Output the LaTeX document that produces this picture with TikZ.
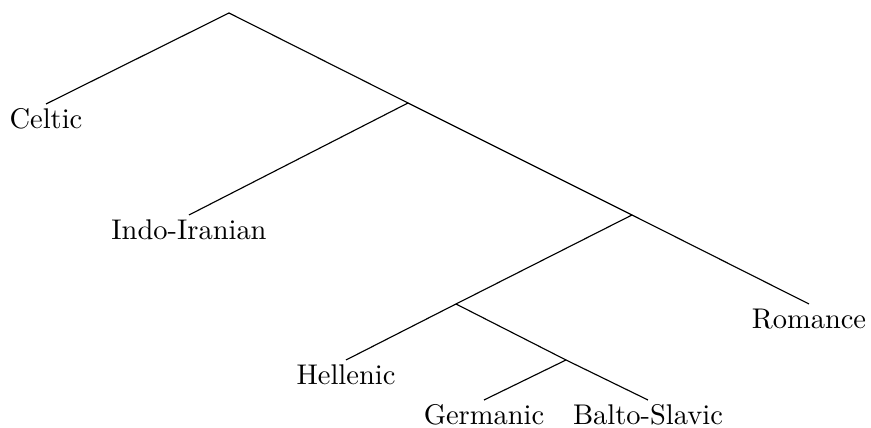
\documentclass[tikz,border=0pt]{standalone}
\usepackage{tikz}
\usetikzlibrary{positioning}

\begin{document}
\begin{tikzpicture}[
    x=0.012342cm, y=-0.012342cm,
    leaf/.style={anchor=north, inner sep=1.5pt, font=\normalsize},
    br/.style={draw=black, line width=0.4pt}
]
\useasboundingbox (0,0) rectangle (871,428);
% branching points
\coordinate (root) at (229,13);
\coordinate (ita) at (408,103);
\coordinate (gk) at (632,215);
\coordinate (hel) at (456,304);
\coordinate (gbs) at (566,360);
% leaves
\node[leaf] (celtic) at (46,104) {Celtic};
\node[leaf] (indo) at (189,215) {Indo-Iranian};
\node[leaf] (romance) at (809,304) {Romance};
\node[leaf] (hellenic) at (346,360) {Hellenic};
\node[leaf] (germanic) at (484,400) {Germanic};
\node[leaf] (balto) at (648,400) {Balto-Slavic};
\draw[br] (root) -- (celtic.north); \draw[br] (root) -- (ita);
\draw[br] (ita) -- (indo.north); \draw[br] (ita) -- (gk);
\draw[br] (gk) -- (hel); \draw[br] (gk) -- (romance.north);
\draw[br] (hel) -- (hellenic.north); \draw[br] (hel) -- (gbs);
\draw[br] (gbs) -- (germanic.north); \draw[br] (gbs) -- (balto.north);
\end{tikzpicture}
\end{document}
